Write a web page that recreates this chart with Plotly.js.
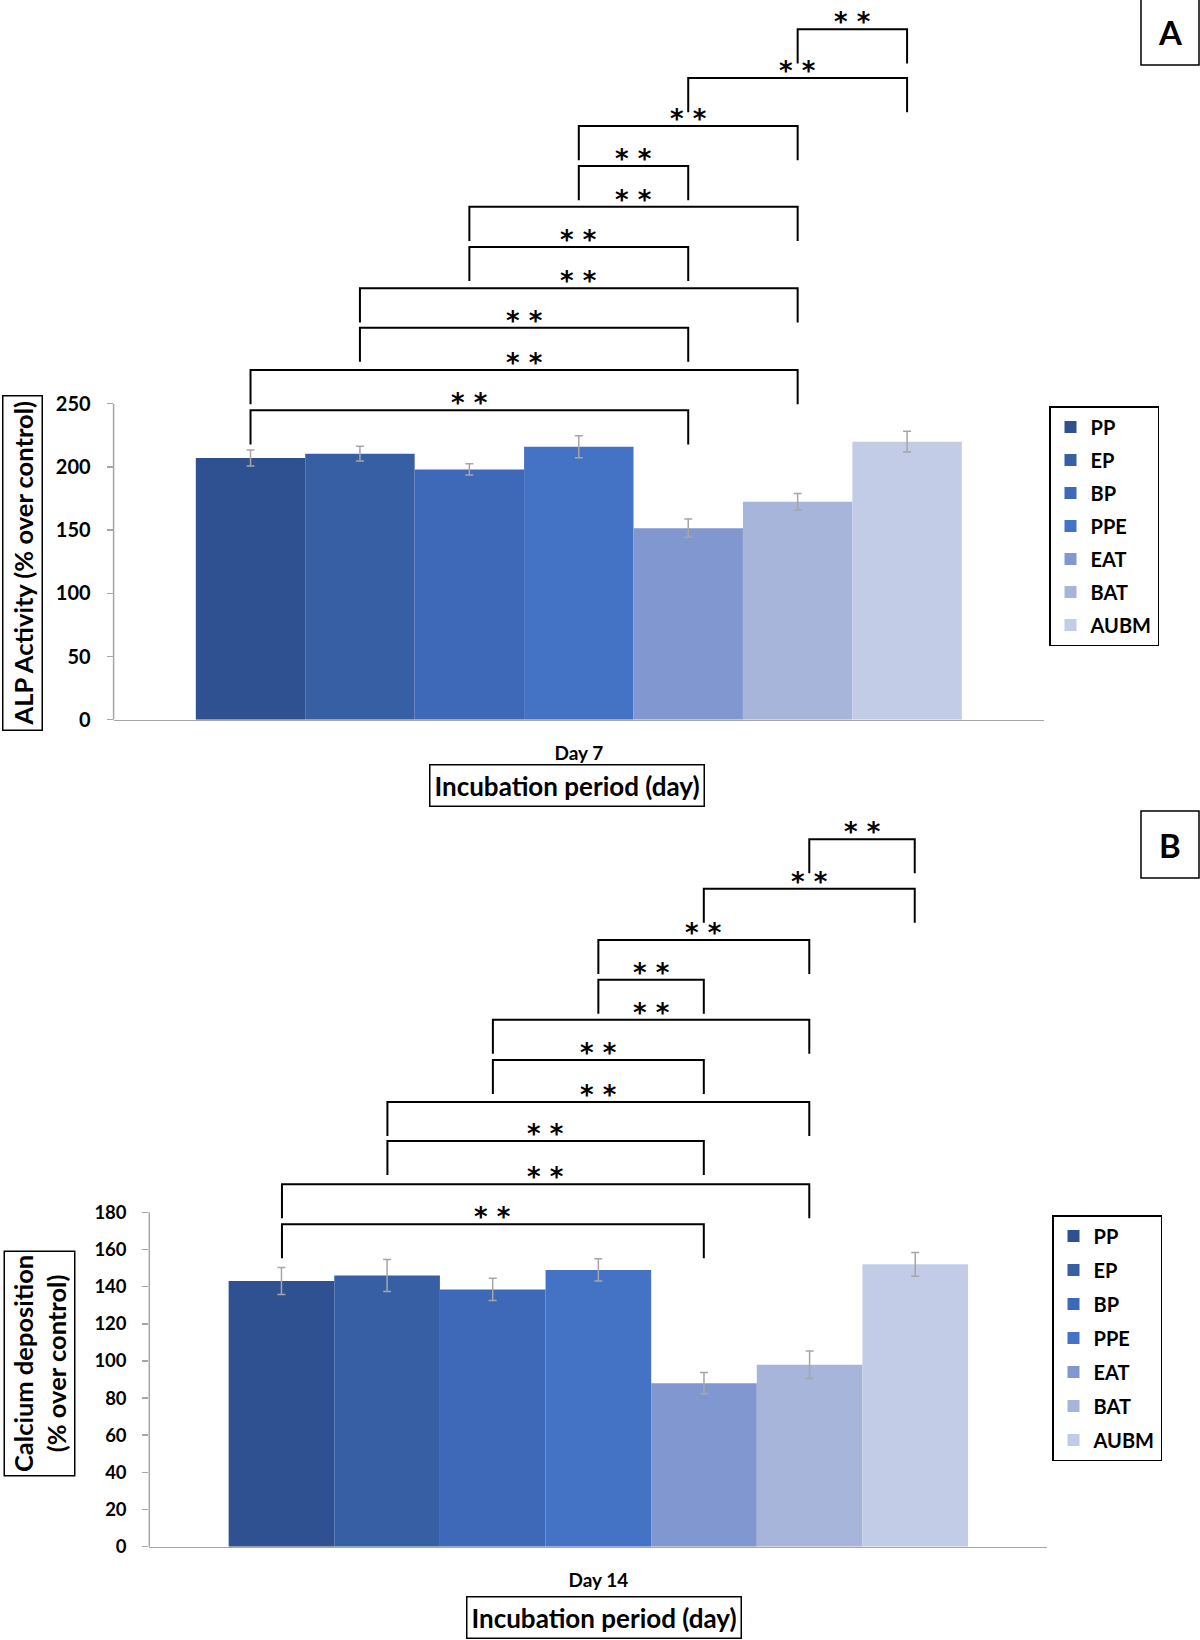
<!DOCTYPE html>
<html><head><meta charset="utf-8">
<script src="https://cdn.plot.ly/plotly-3.0.1.min.js"></script>
<style>html,body{margin:0;padding:0;background:#fff}</style>
</head><body><div id="chart" style="width:1200px;height:1640px"></div>
<script>
// ---------------- data ----------------
const groups = ['PP', 'EP', 'BP', 'PPE', 'EAT', 'BAT', 'AUBM'];
const categoryA = ['Day 7'];
const categoryB = ['Day 14'];
const alpValues = [207, 210.5, 198, 216, 151.5, 172.5, 220];
const alpErrors = [6.3, 5.8, 4.5, 8.7, 7.2, 6.5, 8.3];
const calciumValues = [143, 146, 138.5, 149, 88, 98, 152];
const calciumErrors = [7.3, 8.6, 6.0, 6.0, 5.7, 7.4, 6.4];
const sigPairs = [[0,4],[0,5],[1,4],[1,5],[2,4],[2,5],[3,4],[3,5],[4,6],[5,6]];
const sigLabel = '* *';
const yTicksA = [0, 50, 100, 150, 200, 250];
const yTicksB = [0, 20, 40, 60, 80, 100, 120, 140, 160, 180];

// ---------------- styles / layout ----------------
const colors = ['#2f5191', '#365fa4', '#3d69b8', '#4472c4', '#8098cf', '#a8b5da', '#c3cce6'];
const FONT = 'Lato, "Open Sans", sans-serif';
const W = 1200, H = 1640;
const px = v => v / W, py = v => 1 - v / H;
const bargapA = 0.1767, bargapB = 0.178;
// bracket heights (axis units) and leg length
const bracketA = {levels: [244.8, 276.6, 310.1, 341.3, 374, 405.8, 438, 469.7, 507.6, 546.2], leg: 27};
const bracketB = {levels: [173.5, 195.1, 218.4, 239.4, 262, 283.6, 305.1, 326.6, 354.1, 380.8], leg: 18.3};

function barTraces(cat, vals, errs, xa, ya, leg, grp) {
  return groups.map((g, i) => ({
    type: 'bar', name: g, x: cat, y: [vals[i]], xaxis: xa, yaxis: ya,
    legend: leg, legendgroup: grp + i, showlegend: true,
    marker: {color: colors[i], line: {width: 0}},
    error_y: {type: 'data', array: [errs[i]], visible: true, color: '#a6a6a6', thickness: 1.5, width: 4},
    hoverinfo: 'none'
  }));
}
const traces = barTraces(categoryA, alpValues, alpErrors, 'x', 'y', 'legend', 'a')
  .concat(barTraces(categoryB, calciumValues, calciumErrors, 'x2', 'y2', 'legend2', 'b'));

function barCenter(i, gap) { return -0.5 + gap / 2 + (i + 0.5) * (1 - gap) / groups.length; }

const shapes = [], annotations = [];
function addBrackets(cfg, gap, xr, yr) {
  sigPairs.forEach((p, k) => {
    const a = barCenter(p[0], gap), b = barCenter(p[1], gap);
    const top = cfg.levels[k], bot = top - cfg.leg;
    shapes.push({type: 'path', xref: xr, yref: yr,
      path: `M${a},${bot} L${a},${top} L${b},${top} L${b},${bot}`,
      line: {color: '#000', width: 2}});
    annotations.push({xref: xr, yref: yr, x: (a + b) / 2, y: top, yshift: 7, showarrow: false,
      text: sigLabel, xanchor: 'center', yanchor: 'middle',
      font: {family: '"DejaVu Sans", sans-serif', size: 26, color: '#000', weight: 'bold'}});
  });
}
addBrackets(bracketA, bargapA, 'x', 'y');
addBrackets(bracketB, bargapB, 'x2', 'y2');

// y-axis lines only up to the top tick
shapes.push({type: 'line', xref: 'x domain', yref: 'y', x0: 0, x1: 0, y0: 0, y1: yTicksA[yTicksA.length - 1], line: {color: '#a6a6a6', width: 1.5}});
shapes.push({type: 'line', xref: 'x2 domain', yref: 'y2', x0: 0, x1: 0, y0: 0, y1: yTicksB[yTicksB.length - 1], line: {color: '#a6a6a6', width: 1.5}});

// panel letter boxes
shapes.push({type: 'rect', xref: 'paper', yref: 'paper', x0: px(1141), x1: px(1199), y0: py(65), y1: py(-2), line: {color: '#000', width: 1.5}});
shapes.push({type: 'rect', xref: 'paper', yref: 'paper', x0: px(1141), x1: px(1199), y0: py(878), y1: py(811), line: {color: '#000', width: 1.5}});
annotations.push({xref: 'paper', yref: 'paper', x: px(1170), y: py(32), text: 'A', showarrow: false, xanchor: 'center', yanchor: 'middle',
  font: {family: FONT, size: 33, color: '#000', weight: 'bold'}});
annotations.push({xref: 'paper', yref: 'paper', x: px(1170), y: py(845), text: 'B', showarrow: false, xanchor: 'center', yanchor: 'middle',
  font: {family: FONT, size: 33, color: '#000', weight: 'bold'}});

// boxed axis titles
const boxTitle = (x, y, text, size, angle, pad) => ({xref: 'paper', yref: 'paper', x: px(x), y: py(y), text: text,
  textangle: angle, showarrow: false, xanchor: 'center', yanchor: 'middle', bordercolor: '#000', borderwidth: 1.5,
  borderpad: pad, bgcolor: '#fff', font: {family: FONT, size: size, color: '#000', weight: 'bold'}});
annotations.push(boxTitle(22, 563, 'ALP Activity (% over control)', 25.5, -90, 4));
annotations.push(boxTitle(39, 1363.5, 'Calcium deposition<br>(% over control)', 25.5, -90, 3));
annotations.push(boxTitle(566.5, 785, 'Incubation period (day)', 26, 0, 4));
annotations.push(boxTitle(604, 1617.5, 'Incubation period (day)', 26, 0, 4));

const tickFont = s => ({family: FONT, size: s, color: '#000', weight: 'bold'});
const xAx = (dom, anchor) => ({domain: dom, anchor: anchor, type: 'category', showline: true, linecolor: '#a6a6a6', linewidth: 1.5,
  ticks: '', showgrid: false, zeroline: false, tickfont: tickFont(19), ticklabelstandoff: 16, automargin: false, fixedrange: true});
const yAx = (dom, anchor, range, tv, fs) => ({domain: dom, anchor: anchor, range: range, tickvals: tv, showline: false, showgrid: false,
  zeroline: false, ticks: 'outside', ticklen: 6, tickwidth: 1.5, tickcolor: '#a6a6a6', tickfont: tickFont(fs),
  ticklabelstandoff: 12, automargin: false, fixedrange: true});

const legendCfg = (x, y, gap) => ({x: px(x), y: py(y), xanchor: 'left', yanchor: 'top', bordercolor: '#000', borderwidth: 1.5,
  bgcolor: '#fff', font: {family: FONT, size: 20, color: '#000', weight: 'bold'}, traceorder: 'grouped', tracegroupgap: gap});

const layout = {
  width: W, height: H, margin: {l: 0, r: 0, t: 0, b: 0}, paper_bgcolor: '#fff', plot_bgcolor: 'rgba(0,0,0,0)',
  barmode: 'group', showlegend: true,
  xaxis: xAx([px(113.6), px(1044)], 'y'),
  yaxis: yAx([py(719.7), 1], 'x', [0, 569.4], yTicksA, 20),
  xaxis2: xAx([px(149.3), px(1047.4)], 'y2'),
  yaxis2: yAx([py(1546.7), py(790)], 'x2', [0, 407.3], yTicksB, 18.5),
  legend: legendCfg(1049, 406, 4),
  legend2: legendCfg(1052, 1215, 5),
  shapes: shapes, annotations: annotations
};
layout.bargap = bargapA;
Plotly.newPlot('chart', traces, layout, {displayModeBar: false, staticPlot: true});
</script></body></html>
